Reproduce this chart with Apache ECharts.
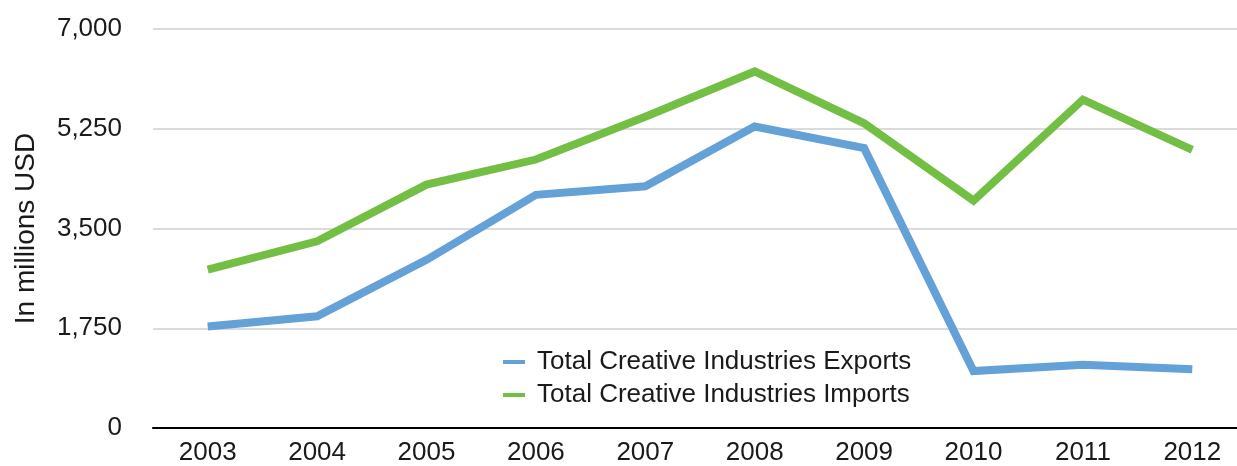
<!DOCTYPE html>
<html>
<head>
<meta charset="utf-8">
<style>
  html, body { margin: 0; padding: 0; background: #ffffff; overflow: hidden; }
  #chart { width: 1250px; height: 466px; }
</style>
<script src="https://cdn.jsdelivr.net/npm/echarts@6/dist/echarts.min.js"></script>
</head>
<body>
<div id="chart"></div>
<script>
// Creative industries trade, in millions USD
const years = ['2003', '2004', '2005', '2006', '2007', '2008', '2009', '2010', '2011', '2012'];
const exportsUSD = [1780, 1960, 2950, 4090, 4240, 5290, 4910, 1000, 1110, 1030];
const importsUSD = [2780, 3275, 4270, 4710, 5460, 6255, 5345, 3990, 5760, 4880];
const yTicks = [0, 1750, 3500, 5250, 7000];

const FONT = '"Liberation Sans", "Helvetica Neue", Arial, sans-serif';
const TEXT = '#1a1a1a';

const chart = echarts.init(document.getElementById('chart'), null, { renderer: 'canvas' });

chart.setOption({
  animation: false,
  backgroundColor: '#ffffff',
  // the plot area runs a little past the visible right edge of the page
  grid: { left: 153, right: 3, top: 29, bottom: 37, containLabel: false },
  legend: {
    orient: 'vertical',
    left: 498,
    top: 344,
    icon: 'rect',
    itemWidth: 22,
    itemHeight: 4,
    itemGap: 7,
    textStyle: { fontFamily: FONT, fontSize: 26, color: TEXT, padding: [0, 0, 0, 7] },
    data: ['Total Creative Industries Exports', 'Total Creative Industries Imports']
  },
  xAxis: {
    type: 'category',
    data: years,
    boundaryGap: true,
    axisLine: { lineStyle: { color: '#000000', width: 2 } },
    axisTick: { show: false },
    axisLabel: { fontFamily: FONT, fontSize: 26, color: TEXT, margin: 12 },
    splitLine: { show: false }
  },
  yAxis: {
    type: 'value',
    min: yTicks[0],
    max: yTicks[yTicks.length - 1],
    interval: yTicks[1] - yTicks[0],
    name: 'In millions USD',
    nameLocation: 'middle',
    nameGap: 113,
    nameRotate: 90,
    nameTextStyle: { fontFamily: FONT, fontSize: 28, color: TEXT },
    axisLine: { show: false },
    axisTick: { show: false },
    axisLabel: {
      fontFamily: FONT, fontSize: 26, color: TEXT, margin: 31,
      formatter: v => v.toLocaleString('en-US')
    },
    splitLine: { lineStyle: { color: '#cfcfcf', width: 1.5 } }
  },
  series: [
    {
      name: 'Total Creative Industries Exports',
      type: 'line',
      data: exportsUSD,
      symbol: 'none',
      color: '#63a1d7',
      lineStyle: { width: 8, color: '#63a1d7', join: 'miter', cap: 'butt' }
    },
    {
      name: 'Total Creative Industries Imports',
      type: 'line',
      data: importsUSD,
      symbol: 'none',
      color: '#72bf44',
      lineStyle: { width: 8, color: '#72bf44', join: 'miter', cap: 'butt' }
    }
  ]
});
</script>
</body>
</html>
